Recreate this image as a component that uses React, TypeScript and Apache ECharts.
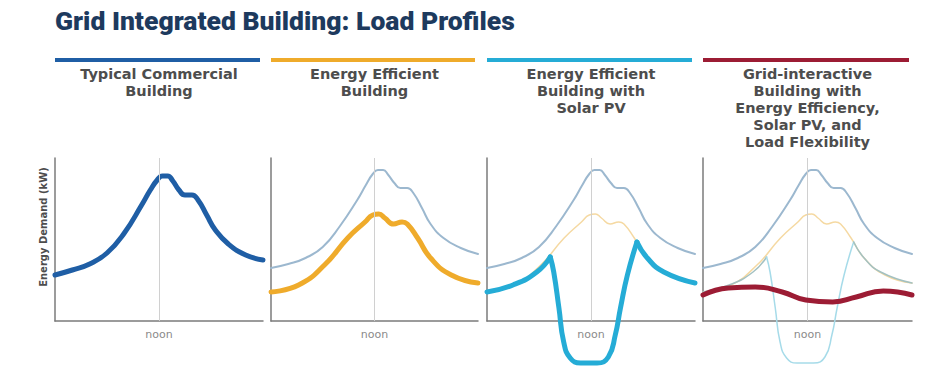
import React, { useEffect, useRef } from 'react';
import * as echarts from 'echarts';

const mainTitle = 'Grid Integrated Building: Load Profiles';
const panelTitles = [
  'Typical Commercial\nBuilding',
  'Energy Efficient\nBuilding',
  'Energy Efficient\nBuilding with\nSolar PV',
  'Grid-interactive\nBuilding with\nEnergy Efficiency,\nSolar PV, and\nLoad Flexibility',
];
const yAxisName = 'Energy Demand (kW)';
const noonLabel = 'noon';
const noonHour = 12;

// [hour, demand]
const typicalLoad = [[0, 46], [2, 51], [4, 57], [6, 68], [8, 88], [10, 116], [11, 131], [11.8, 141], [12.4, 145], [13, 145], [13.6, 140], [14.3, 131], [15, 126], [15.8, 126], [16.5, 121], [17.5, 106], [18.5, 91], [20, 77], [22, 66], [24, 61]];
const typicalOverlay = [[0, 53], [2, 57], [4, 63], [6, 74], [8, 95], [10, 121], [11, 136], [11.8, 147], [12.4, 151], [13, 151], [13.6, 146], [14.3, 138], [15, 133], [15.8, 133], [16.5, 128], [17.5, 113], [18.5, 97], [20, 83], [22, 73], [24, 67]];
const efficientLoad = [[0, 29], [3.2, 36], [6.2, 56], [8.9, 83], [10.9, 99], [11.8, 106], [12.5, 107], [13.2, 103], [14.2, 97], [15.2, 99], [15.8, 97], [17, 83], [18.5, 63], [20.9, 46], [24, 38]];
const solarMorning = [[0, 29], [3, 36], [5.75, 49], [7.3, 64]];
const solarMidday = [[7.3, 64], [7.7, 49], [8.3, 13], [8.85, -21], [9.6, -37], [10.8, -42], [12.7, -42], [14, -36], [14.8, -14], [15.4, 13], [16.2, 46], [17.3, 79]];
const solarEvening = [[17.3, 79], [18.5, 63], [20.4, 49], [24, 38]];
const flexibleLoad = [[0, 26], [2.9, 33], [6, 34], [9.1, 29], [11.8, 21], [14.9, 19], [17.6, 24], [20.7, 30], [24, 26]];

const panelColors = ['#1f5ea5', '#efab2b', '#25acd6', '#9c1c34'];

export default function App() {
  const ref = useRef<HTMLDivElement>(null);
  useEffect(() => {
    document.body.style.margin = '0';
    const chart = echarts.init(ref.current!, null, { renderer: 'svg' });
    const lefts = [55, 271, 487, 703];
    const widths = [208, 207, 208, 209];
    const top = 158;
    const height = 163;
    const axisColor = '#7b7b7b';
    const grids = lefts.map((l, i) => ({ left: l, top, width: widths[i], height }));
    const xAxes = lefts.map((_, i) => ({
      type: 'value', gridIndex: i, min: 0, max: 24, interval: 12,
      axisLine: { lineStyle: { color: axisColor, width: 1.5 } },
      axisTick: { show: false }, splitLine: { show: false },
      axisLabel: { formatter: (v: number) => (v === noonHour ? noonLabel : ''), color: '#8a8a8a', fontSize: 11, fontFamily: 'DejaVu Sans', margin: 8 },
    }));
    const yAxes = lefts.map((_, i) => ({
      type: 'value', gridIndex: i, min: 0, max: 163,
      axisLine: { show: true, lineStyle: { color: axisColor, width: 1.5 } },
      axisTick: { show: false }, splitLine: { show: false }, axisLabel: { show: false },
      name: i === 0 ? yAxisName : '', nameLocation: 'middle', nameGap: 7,
      nameTextStyle: { color: '#4d4d4d', fontSize: 10, fontWeight: 'bold', fontFamily: 'DejaVu Sans', padding: [0, 0, 0, 25] },
    }));
    const line = (idx: number, data: number[][], color: string, width: number, z = 3) => ({
      type: 'line', xAxisIndex: idx, yAxisIndex: idx, data, smooth: 0.5, symbol: 'none', clip: false, z,
      lineStyle: { color, width, cap: 'round', join: 'round' },
    });
    const series: any[] = [];
    lefts.forEach((_, i) => {
      series.push({
        type: 'line', xAxisIndex: i, yAxisIndex: i, data: [], z: 1,
        markLine: { silent: true, symbol: 'none', label: { show: false }, lineStyle: { color: '#d0d0d0', width: 1, type: 'solid' }, data: [{ xAxis: noonHour }] },
      });
    });
    series.push(line(0, typicalLoad, panelColors[0], 5));
    series.push(line(1, typicalOverlay, '#9cb8cf', 2));
    series.push(line(1, efficientLoad, panelColors[1], 5));
    series.push(line(2, typicalOverlay, '#9cb8cf', 2));
    series.push(line(2, efficientLoad, '#f5d9a2', 1.5));
    series.push(line(2, solarMorning, panelColors[2], 5, 4));
    series.push(line(2, solarMidday, panelColors[2], 5, 4));
    series.push(line(2, solarEvening, panelColors[2], 5, 4));
    series.push(line(3, typicalOverlay, '#9cb8cf', 2));
    series.push(line(3, efficientLoad, '#f5d9a2', 1.5));
    series.push(line(3, solarMorning, '#a3c1c2', 1.5, 4));
    series.push(line(3, solarMidday, '#a6dbe9', 1.5, 4));
    series.push(line(3, solarEvening, '#a3c1c2', 1.5, 4));
    series.push(line(3, flexibleLoad, panelColors[3], 5, 5));

    const graphic: any[] = [
      { type: 'text', x: 55, y: 7, style: { text: mainTitle, fill: '#1d3a5e', font: '900 26.5px Roboto' } },
    ];
    lefts.forEach((l, i) => {
      graphic.push({ type: 'line', shape: { x1: l, y1: 60, x2: l + widths[i] - 3, y2: 60 }, style: { stroke: panelColors[i], lineWidth: 4 } });
      graphic.push({
        type: 'text', x: l + widths[i] / 2, y: 65,
        style: { text: panelTitles[i], fill: '#4d4d4d', font: 'bold 14.5px "DejaVu Sans"', lineHeight: 17, textAlign: 'center', textVerticalAlign: 'top' },
      });
    });

    chart.setOption({ animation: false, grid: grids, xAxis: xAxes, yAxis: yAxes, series, graphic });
    return () => chart.dispose();
  }, []);
  return <div ref={ref} style={{ width: 952, height: 372 }} />;
}
